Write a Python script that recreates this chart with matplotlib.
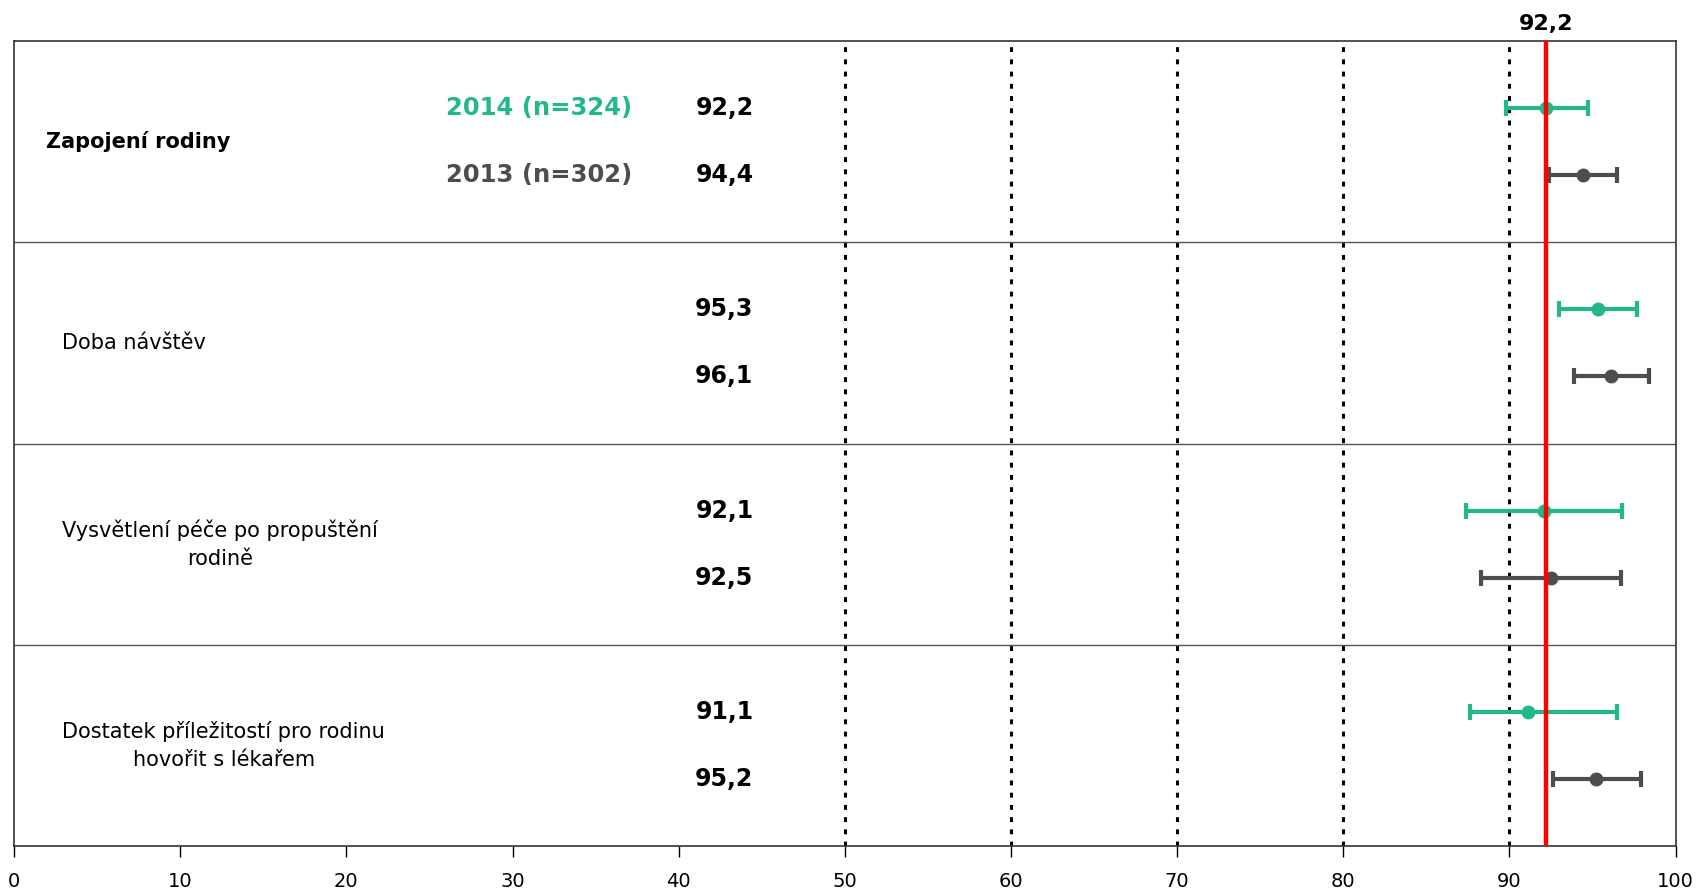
import numpy as np
import matplotlib.pyplot as plt

# ── data ──────────────────────────────────────────────────────
categories = [
    "Zapojení rodiny",
    "Doba návštěv",
    "Vysvětlení péče po propuštění\nrodině",
    "Dostatek příležitostí pro rodinu\nhovořit s lékařem",
]
series_labels = ["2014 (n=324)", "2013 (n=302)"]
value_labels_2014 = ["92,2", "95,3", "92,1", "91,1"]
value_labels_2013 = ["94,4", "96,1", "92,5", "95,2"]
mean_2014 = np.array([92.2, 95.3, 92.1, 91.1])
low_2014 = np.array([89.8, 93.0, 87.4, 87.6])
high_2014 = np.array([94.7, 97.7, 96.8, 96.5])
mean_2013 = np.array([94.4, 96.1, 92.5, 95.2])
low_2013 = np.array([92.4, 93.9, 88.3, 92.6])
high_2013 = np.array([96.5, 98.4, 96.7, 97.9])
reference = 92.2
reference_label = "92,2"
grid_x = [50, 60, 70, 80, 90]

green = "#23b88b"
gray = "#4d4d4d"

plt.rcParams["font.family"] = ["DejaVu Sans"]

fig = plt.figure(figsize=(16.96, 8.93), dpi=100)
ax = fig.add_axes([0.0083, 0.0526, 0.9797, 0.9014])

n = len(categories)
y14 = np.arange(n) * 3 + 1
y13 = np.arange(n) * 3 + 2

# dotted grid + reference line
for gx in grid_x:
    ax.axvline(gx, color="black", lw=2.2, ls=(0, (1.6, 2.4)), zorder=1)
ax.axvline(reference, color="#ff0000", lw=3.2, zorder=4)
ax.text(reference, -0.1, reference_label, ha="center", va="bottom",
        fontsize=16, fontweight="bold")

# row separators
for i in range(1, n):
    ax.axhline(i * 3, color="#555555", lw=1.0, zorder=1)

# error bars
ax.errorbar(mean_2014, y14, xerr=[mean_2014 - low_2014, high_2014 - mean_2014],
            fmt="o", color=green, ms=9, elinewidth=3, capsize=6, capthick=3, zorder=3)
ax.errorbar(mean_2013, y13, xerr=[mean_2013 - low_2013, high_2013 - mean_2013],
            fmt="o", color=gray, ms=9, elinewidth=3, capsize=6, capthick=3, zorder=3)

# text columns
for i, cat in enumerate(categories):
    yc = i * 3 + 1.5
    if i == 0:
        ax.text(1.9, yc, cat, ha="left", va="center", fontsize=15, fontweight="bold")
    else:
        ax.text(2.9, yc, cat, ha="left", va="center", fontsize=15,
                multialignment="center", linespacing=1.5)
    ax.text(44.5, y14[i], value_labels_2014[i], ha="right", va="center",
            fontsize=17, fontweight="bold")
    ax.text(44.5, y13[i], value_labels_2013[i], ha="right", va="center",
            fontsize=17, fontweight="bold")

ax.text(37.2, y14[0], series_labels[0], ha="right", va="center",
        fontsize=17.5, fontweight="bold", color=green)
ax.text(37.2, y13[0], series_labels[1], ha="right", va="center",
        fontsize=17.5, fontweight="bold", color=gray)

ax.set_xlim(0, 100)
ax.set_ylim(n * 3, 0)
ax.set_xticks(np.arange(0, 101, 10))
ax.set_yticks([])
ax.tick_params(axis="x", direction="out", length=8, width=1, labelsize=14, pad=11)
for s in ax.spines.values():
    s.set_color("#333333")
    s.set_linewidth(1.2)

fig.savefig("out.png", dpi=100)
